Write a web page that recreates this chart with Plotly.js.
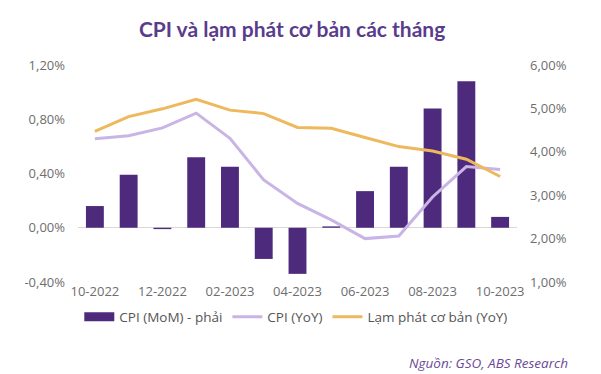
<!DOCTYPE html>
<html>
<head>
<meta charset="utf-8">
<script src="https://cdn.plot.ly/plotly-3.0.1.min.js"></script>
<style>html,body{margin:0;padding:0;background:#fff;}#chart{width:601px;height:374px;}</style>
</head>
<body>
<div id="chart"></div>
<script>
const months = ['10-2022','11-2022','12-2022','01-2023','02-2023','03-2023','04-2023','05-2023','06-2023','07-2023','08-2023','09-2023','10-2023'];
const cpiMoM = [0.16,0.39,-0.01,0.52,0.45,-0.23,-0.34,0.01,0.27,0.45,0.88,1.08,0.08];
const cpiYoY = [4.30,4.37,4.55,4.89,4.31,3.35,2.81,2.43,2.00,2.06,2.96,3.66,3.59];
const coreYoY = [4.47,4.81,4.99,5.21,4.96,4.88,4.56,4.54,4.33,4.12,4.02,3.83,3.43];
const xTickLabels = ['10-2022','12-2022','02-2023','04-2023','06-2023','08-2023','10-2023'];
const leftTicks = [-0.4,0,0.4,0.8,1.2];
const leftTickText = ['-0,40%','0,00%','0,40%','0,80%','1,20%'];
const rightTicks = [1,2,3,4,5,6];
const rightTickText = ['1,00%','2,00%','3,00%','4,00%','5,00%','6,00%'];
const seriesNames = ['CPI (MoM) - phải','CPI (YoY)','Lạm phát cơ bản (YoY)'];
const colors = {bar:'#4d2a7c', cpi:'#c9b5e5', core:'#eeb85c'};

const traces = [
  {type:'bar', x:months, y:cpiMoM, yaxis:'y', marker:{color:colors.bar}, showlegend:false, name:seriesNames[0]},
  {type:'scatter', mode:'lines', x:[null], y:[null], yaxis:'y', line:{color:colors.bar, width:9}, name:seriesNames[0]},
  {type:'scatter', mode:'lines', x:months, y:cpiYoY, yaxis:'y2', line:{color:colors.cpi, width:3}, name:seriesNames[1]},
  {type:'scatter', mode:'lines', x:months, y:coreYoY, yaxis:'y2', line:{color:colors.core, width:3}, name:seriesNames[2]}
];

const tickFont = {family:'Open Sans, sans-serif', size:13, color:'#6e6e6e'};
const layout = {
  width:601, height:374,
  margin:{l:78, r:84, t:65, b:92},
  paper_bgcolor:'#fff', plot_bgcolor:'#fff',
  bargap:0.47,
  title:{text:'<b>CPI và lạm phát cơ bản các tháng</b>', x:0.486, xanchor:'center', y:0.92, yanchor:'middle',
         font:{family:'Lato, Open Sans, sans-serif', size:21, color:'#5a3c8c'}},
  xaxis:{type:'category', categoryorder:'array', categoryarray:months, range:[-0.5,12.5],
         tickmode:'array', tickvals:xTickLabels, ticktext:xTickLabels,
         showgrid:false, showline:false, zeroline:false, ticks:'', tickfont:tickFont, ticklabelstandoff:0},
  yaxis:{range:[-0.4,1.2], tickmode:'array', tickvals:leftTicks, ticktext:leftTickText,
         showgrid:false, zeroline:true, zerolinecolor:'#d9d9d9', zerolinewidth:1, showline:false,
         ticks:'', tickfont:tickFont, ticklabelstandoff:12},
  yaxis2:{range:[1,6], overlaying:'y', side:'right', tickmode:'array', tickvals:rightTicks, ticktext:rightTickText,
          showgrid:false, zeroline:false, showline:false, ticks:'', tickfont:tickFont, ticklabelstandoff:12},
  legend:{orientation:'h', xref:'container', yref:'container', x:0.493, xanchor:'center', y:1-317/374, yanchor:'middle',
          font:{family:'Open Sans, sans-serif', size:13.5, color:'#555'}, itemwidth:30, tracegroupgap:0},
  annotations:[{xref:'paper', yref:'paper', x:1.12, xanchor:'right', y:-0.373, yanchor:'middle', showarrow:false,
                text:'<i>Nguồn: GSO, ABS Research</i>', font:{family:'Open Sans, sans-serif', size:13.5, color:'#6a4a96'}}]
};
Plotly.newPlot('chart', traces, layout, {staticPlot:true, displayModeBar:false});
</script>
</body>
</html>
